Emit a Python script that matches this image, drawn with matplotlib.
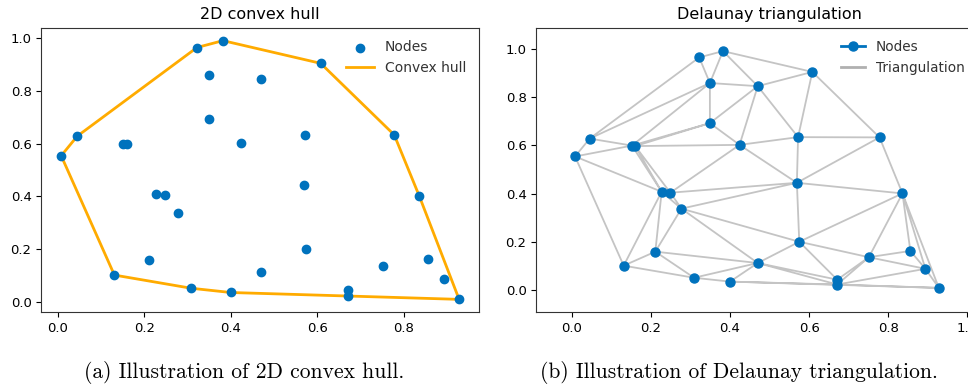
import matplotlib
matplotlib.use("Agg")
import matplotlib.pyplot as plt
import matplotlib.tri as mtri
from matplotlib.lines import Line2D
import numpy as np

# node coordinates
x = [0.008, 0.045, 0.131, 0.152, 0.160, 0.211, 0.227, 0.249, 0.277, 0.309,
     0.322, 0.349, 0.349, 0.382, 0.400, 0.424, 0.470, 0.470, 0.569, 0.572,
     0.575, 0.608, 0.671, 0.671, 0.751, 0.778, 0.836, 0.856, 0.894, 0.928]
y = [0.554, 0.628, 0.102, 0.599, 0.597, 0.160, 0.408, 0.404, 0.338, 0.052,
     0.964, 0.858, 0.692, 0.990, 0.036, 0.602, 0.845, 0.113, 0.445, 0.634,
     0.201, 0.904, 0.044, 0.024, 0.137, 0.633, 0.401, 0.163, 0.089, 0.010]

titles = ["2D convex hull", "Delaunay triangulation"]
captions = ["(a) Illustration of 2D convex hull.",
            "(b) Illustration of Delaunay triangulation."]

blue = "#0072bd"
orange = "#ffab00"
grey = "#c4c4c4"


def convex_hull(px, py):
    pts = sorted(zip(px, py))

    def cross(o, a, b):
        return (a[0] - o[0]) * (b[1] - o[1]) - (a[1] - o[1]) * (b[0] - o[0])

    lower, upper = [], []
    for p in pts:
        while len(lower) >= 2 and cross(lower[-2], lower[-1], p) <= 0:
            lower.pop()
        lower.append(p)
    for p in reversed(pts):
        while len(upper) >= 2 and cross(upper[-2], upper[-1], p) <= 0:
            upper.pop()
        upper.append(p)
    hull = lower[:-1] + upper[:-1]
    hull.append(hull[0])
    return np.array(hull)


fig = plt.figure(figsize=(9.68, 3.86), dpi=100)
ax1 = fig.add_axes([41.3 / 968, 73.7 / 386, 437.7 / 968, 284.6 / 386])
ax2 = fig.add_axes([536.3 / 968, 73.7 / 386, 466.6 / 968, 284.6 / 386])

# left: convex hull
hull = convex_hull(x, y)
ax1.scatter(x, y, s=36, color=blue, label="Nodes", zorder=3)
ax1.plot(hull[:, 0], hull[:, 1], color=orange, lw=2, label="Convex hull", zorder=2)
ax1.set_title(titles[0], fontsize=11.5)
ax1.legend(loc="upper right", frameon=False, fontsize=10, labelcolor="#333333")

# right: Delaunay triangulation
tri = mtri.Triangulation(x, y)
ax2.triplot(tri, color=grey, lw=1.3, zorder=1)
ax2.plot(x, y, "o", color=blue, ms=6.5, zorder=3)
ax2.set_xlim(-0.09, 1.09)
ax2.set_ylim(-0.091, 1.087)
ax2.set_title(titles[1], fontsize=11.5)
handles = [Line2D([], [], color=blue, marker="o", lw=2, ms=6.5),
           Line2D([], [], color="#b0b0b0", lw=2)]
ax2.legend(handles, ["Nodes", "Triangulation"], loc="upper right",
           frameon=False, fontsize=9.8, labelcolor="#333333",
           handlelength=1.8, bbox_to_anchor=(0.945, 1.0))

for ax in (ax1, ax2):
    ax.tick_params(labelsize=9.5)
    for s in ax.spines.values():
        s.set_color("#333333")

for cx, text in zip([244 / 968, 739 / 968], captions):
    fig.text(cx, 14 / 386, text, ha="center", va="center",
             fontfamily="cmr10", fontsize=15.5)

fig.savefig("out.png", dpi=100)
